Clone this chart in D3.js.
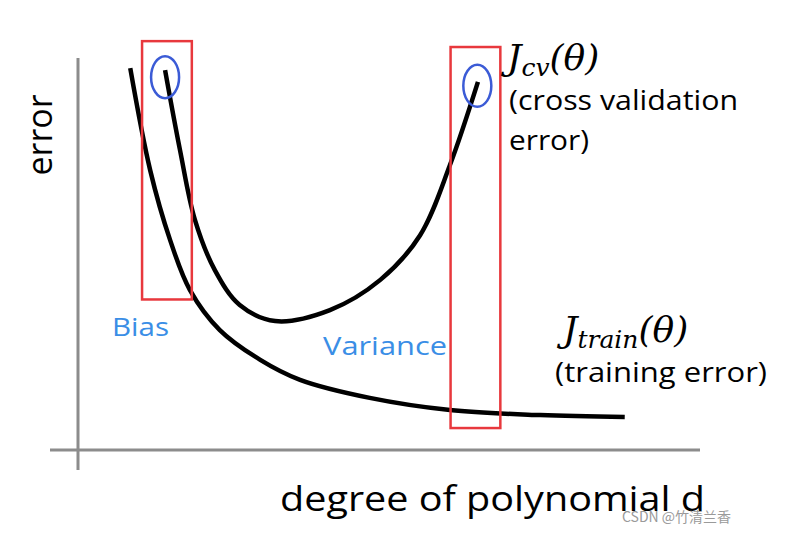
<!DOCTYPE html>
<html><head><meta charset="utf-8">
<script src="https://cdn.jsdelivr.net/npm/d3@7"></script>
<style>body{margin:0;background:#fff}</style>
</head><body>
<svg id="chart" width="789" height="534"></svg>
<script>
// curve values in chart units (x: degree, y: error)
const trainX = [0.84, 1.16, 1.48, 1.80, 2.28, 2.93, 3.57, 4.69, 5.98, 7.43, 8.79];
const trainY = [9.74, 7.14, 5.36, 4.08, 3.06, 2.30, 1.79, 1.33, 1.02, 0.89, 0.84];
const cvX = [1.40, 1.64, 1.88, 2.20, 2.60, 3.17, 4.05, 4.86, 5.50, 5.98, 6.43];
const cvY = [9.69, 7.65, 5.87, 4.59, 3.70, 3.29, 3.57, 4.34, 5.48, 7.27, 9.39];
// highlighted regions [x0, x1, y0, y1] and circles [cx, cy]
const boxes = [[1.03, 1.83, 3.84, 10.43], [5.99, 6.79, 0.56, 10.28]];
const rings = [[1.40, 9.51], [6.42, 9.29]];

const svg = d3.select('#chart');
const x = d3.scaleLinear().domain([0, 10]).range([78, 700]);
const y = d3.scaleLinear().domain([0, 10]).range([450, 58]);

// axes
svg.append('line').attr('x1', x(0)).attr('x2', x(0)).attr('y1', y(10)).attr('y2', 470)
    .attr('stroke', '#8c8c8c').attr('stroke-width', 3);
svg.append('line').attr('x1', 50).attr('x2', x(10)).attr('y1', y(0)).attr('y2', y(0))
    .attr('stroke', '#8c8c8c').attr('stroke-width', 3);

const line = d3.line().x(d => x(d[0])).y(d => y(d[1])).curve(d3.curveCatmullRom);
[[trainX, trainY], [cvX, cvY]].forEach(([xs, ys]) => {
    svg.append('path').attr('d', line(xs.map((v, i) => [v, ys[i]])))
        .attr('fill', 'none').attr('stroke', '#000').attr('stroke-width', 4.5);
});

boxes.forEach(b => {
    svg.append('rect').attr('x', x(b[0])).attr('y', y(b[3]))
        .attr('width', x(b[1]) - x(b[0])).attr('height', y(b[2]) - y(b[3]))
        .attr('fill', 'none').attr('stroke', '#e8383d').attr('stroke-width', 2.5);
});
rings.forEach(r => {
    svg.append('ellipse').attr('cx', x(r[0])).attr('cy', y(r[1])).attr('rx', 14).attr('ry', 21)
        .attr('fill', 'none').attr('stroke', '#3b5bd6').attr('stroke-width', 2.5);
});

const sans = '"Open Sans", "Noto Sans", sans-serif';
const txt = (tx, ty, s, size, color, len, family) => {
    const t = svg.append('text').attr('x', tx).attr('y', ty)
        .text(s).attr('font-size', size).attr('fill', color || '#000').attr('font-family', family || sans);
    if (len) t.attr('textLength', len).attr('lengthAdjust', 'spacingAndGlyphs');
    return t;
};

svg.append('text').attr('transform', 'translate(52,135) rotate(-90)').attr('text-anchor', 'middle')
    .attr('font-family', sans).attr('font-size', 34).text('error');
txt(280, 511, 'degree of polynomial d', 35, '#000', 425);
txt(112, 336, 'Bias', 26, '#3a8ee6', 57);
txt(323, 355, 'Variance', 26, '#3a8ee6', 124);

const serif = '"DejaVu Serif", "Liberation Serif", serif';
const jcv = txt(507, 70, '', 36, '#000', null, serif).attr('font-style', 'italic');
jcv.append('tspan').text('J');
jcv.append('tspan').text('cv').attr('font-size', 25).attr('dy', 6);
jcv.append('tspan').text('(θ)').attr('dy', -6);
txt(509, 110, '(cross validation', 28, '#000', 229);
txt(509, 150, 'error)', 28, '#000', 80);
const jtr = txt(563, 342, '', 36, '#000', null, serif).attr('font-style', 'italic');
jtr.append('tspan').text('J');
jtr.append('tspan').text('train').attr('font-size', 25).attr('dy', 6);
jtr.append('tspan').text('(θ)').attr('dy', -6);
txt(555, 382, '(training error)', 28, '#000', 212);

txt(622, 522, 'CSDN @竹清兰香', 14, '#9a9a9a', null, '"Noto Sans CJK SC", sans-serif');
</script>
</body></html>
